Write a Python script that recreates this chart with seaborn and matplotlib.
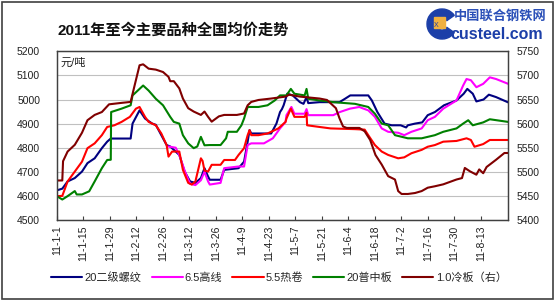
import numpy as np
import pandas as pd
import matplotlib
matplotlib.use("Agg")
import matplotlib.pyplot as plt
import matplotlib.dates as mdates
from matplotlib.patches import Rectangle, Wedge
from matplotlib.ticker import FixedLocator, MultipleLocator
import seaborn as sns

# ---------------- data (day offset from 2011-01-01, price) ----------------
start_date = "2011-01-01"

rebar_days = [0, 2.9, 5.7, 9.5, 13.3, 16.2, 20, 23.8, 26.6, 28.5, 39, 40, 43.7, 46.6, 50.4, 52.3,
              55.2, 58, 59.9, 64.7, 67.5, 70.4, 73.2, 76.1, 78, 79.9, 80.8, 86.5, 88.4, 96, 98.9,
              100.8, 101.8, 102.7, 113.2, 116, 117.9, 118.9, 119.8, 121.7, 124.6, 128.4, 130.3,
              131.9, 132.8, 138.8, 149.3, 152.2, 155, 164.5, 166.4, 169.3, 173.1, 176.9, 181.6,
              184.5, 185.4, 189.2, 193, 195.9, 199.7, 204.5, 211.1, 214.9, 216.8, 219.7, 221.6,
              225.4, 228.2, 232, 238.7]
rebar_vals = [4623, 4630, 4660, 4674, 4701, 4736, 4756, 4798, 4825, 4838, 4838, 4900, 4955, 4921,
              4900, 4895, 4852, 4811, 4805, 4770, 4701, 4660, 4654, 4674, 4715, 4680, 4667, 4667,
              4708, 4715, 4742, 4825, 4873, 4859, 4859, 4900, 4948, 4960, 4976, 5024, 5017, 4989,
              4982, 5010, 4985, 4989, 4989, 5003, 5017, 5017, 4996, 4948, 4900, 4893, 4893, 4884,
              4893, 4900, 4905, 4935, 4948, 4976, 4996, 5024, 5044, 5024, 4992, 5000, 5020, 5010,
              4987]

wire_days = [59, 62.8, 64.7, 67.5, 70.4, 73.2, 76.1, 78, 79.9, 80.8, 86.5, 88.4, 96, 98.9, 100.8,
             102.7, 109.4, 114.1, 117.9, 120.8, 121.3, 123.9, 125.5, 130.9, 131.9, 132.8, 146,
             149.5, 154.8, 159.8, 161, 164.5, 168, 171.6, 175, 180.3, 183.5, 187.3, 192.7, 195.9,
             199.7, 204.1, 211.1, 214.6, 216.4, 218.7, 221.6, 225.2, 228.7, 232, 238.4]
wire_vals = [4805, 4800, 4770, 4705, 4650, 4645, 4665, 4700, 4660, 4647, 4654, 4715, 4722, 4722,
             4811, 4818, 4818, 4839, 4880, 4907, 4935, 4969, 4941, 4941, 4960, 4935, 4935, 4948,
             4962, 4969, 4965, 4955, 4928, 4880, 4866, 4862, 4852, 4866, 4880, 4914, 4928, 4962,
             4996, 5058, 5085, 5080, 5051, 5065, 5092, 5085, 5065]

coil_days = [0, 2.9, 5.7, 9.5, 13.3, 16.2, 20, 23.8, 26.6, 30.4, 34.2, 37.1, 38.6, 41.8, 43.7,
             46.6, 48.5, 52.3, 55.2, 58, 59, 60.9, 64.7, 66.6, 69.4, 71.3, 73.2, 76.1, 77, 78,
             79.9, 81.8, 86.5, 88.4, 94.1, 96, 98.9, 100.8, 101.8, 102.7, 106.5, 111.3, 117,
             120.8, 121.3, 123.6, 125.5, 130.9, 131.9, 132.2, 138.8, 144.6, 157.5, 162.6, 164.5,
             168, 171.6, 175, 180.3, 183.5, 187.3, 192.7, 195.9, 199.7, 204.1, 211.1, 216.4,
             218.7, 220.6, 225.2, 228.7, 238.4]
coil_vals = [4599, 4600, 4660, 4701, 4742, 4798, 4818, 4852, 4886, 4893, 4907, 4921, 4928, 4962,
             4969, 4928, 4907, 4893, 4859, 4811, 4763, 4784, 4784, 4708, 4654, 4647, 4660, 4756,
             4745, 4705, 4701, 4729, 4729, 4749, 4749, 4770, 4798, 4852, 4873, 4852, 4852, 4859,
             4880, 4907, 4921, 4962, 4928, 4928, 4945, 4893, 4886, 4880, 4877, 4875, 4852, 4811,
             4784, 4770, 4756, 4760, 4777, 4791, 4804, 4811, 4825, 4828, 4839, 4832, 4804, 4815,
             4832, 4832]

plate_days = [0, 2.9, 5.7, 9.5, 10.5, 13.3, 17.1, 20, 23.8, 26.6, 28.5, 28.7, 34.2, 39, 40, 41.8,
              45.6, 48.5, 52.3, 56.1, 59.9, 61.8, 64.7, 66.6, 69.4, 72.3, 74.2, 76.1, 78, 80.8,
              86.5, 89.4, 90.3, 95.1, 97.5, 98.9, 100.8, 106.5, 111.3, 115.1, 117.9, 121.3, 123.6,
              125.5, 130.9, 131.9, 132.8, 138.8, 146, 157.5, 164.5, 168, 171.6, 175, 178.6, 185.4,
              192.7, 199.7, 204.1, 211.1, 214.6, 217.3, 219.7, 225.2, 228.7, 238.4]
plate_vals = [4599, 4585, 4599, 4620, 4606, 4606, 4619, 4660, 4715, 4749, 4750, 4948, 4962, 4976,
              5017, 5030, 5058, 5037, 5003, 4976, 4928, 4907, 4900, 4852, 4818, 4798, 4805, 4845,
              4810, 4811, 4811, 4839, 4866, 4866, 4893, 4921, 4969, 4969, 4976, 4996, 5017, 5017,
              5044, 5024, 5017, 5044, 5003, 4996, 4989, 4982, 4969, 4941, 4900, 4893, 4852, 4839,
              4839, 4852, 4866, 4880, 4900, 4914, 4893, 4905, 4918, 4907]

cold_days = [0, 2.9, 3.3, 5.7, 9.5, 13.3, 16.2, 20, 23.8, 27.6, 34.2, 39, 40.9, 43.7, 45.6, 48.5,
             52.3, 56.1, 59, 59.9, 61.8, 64.7, 66.6, 69.4, 72.3, 76.1, 78, 79.9, 81.8, 85.6, 88.4,
             95.1, 98.9, 100.8, 102.7, 106.5, 113.2, 120.8, 122.7, 128.4, 138.8, 142.7, 147.4,
             149.3, 151.2, 153.1, 159.8, 162.6, 165.5, 168.3, 171.6, 175, 178.6, 180.3, 182.1,
             185.4, 189.2, 192.7, 195.9, 199.7, 204.1, 211.1, 214, 215.5, 218.2, 221.6, 223.1,
             225.2, 227, 232, 236.4, 238.4]
cold_vals = [5482, 5482, 5522, 5542, 5556, 5581, 5607, 5618, 5624, 5640, 5643, 5645, 5676, 5721,
             5723, 5714, 5712, 5707, 5697, 5688, 5688, 5673, 5652, 5632, 5625, 5618, 5625, 5614,
             5604, 5615, 5618, 5618, 5621, 5638, 5645, 5649, 5652, 5656, 5660, 5656, 5652, 5649,
             5632, 5611, 5594, 5591, 5591, 5584, 5566, 5535, 5515, 5491, 5484, 5460, 5454, 5454,
             5456, 5460, 5467, 5470, 5474, 5484, 5487, 5508, 5501, 5494, 5505, 5497, 5510, 5525,
             5539, 5539]

tick_labels = ["11-1-1", "11-1-15", "11-1-29", "11-2-12", "11-2-26", "11-3-12", "11-3-26",
               "11-4-9", "11-4-23", "11-5-7", "11-5-21", "11-6-4", "11-6-18", "11-7-2",
               "11-7-16", "11-7-30", "11-8-13"]

series_names = ["20二级螺纹", "6.5高线", "5.5热卷", "20普中板", "1.0冷板（右）"]
colors = ["#000080", "#FF00FF", "#FF0000", "#008000", "#800000"]

# ---------------- style ----------------
sns.set_theme(style="white")
plt.rcParams["font.family"] = ["Liberation Sans", "Noto Sans CJK SC"]
plt.rcParams["axes.unicode_minus"] = False

t0 = pd.Timestamp(start_date)


def make_df(days, vals):
    return pd.DataFrame({"date": t0 + pd.to_timedelta(np.array(days), unit="D"),
                         "price": vals})


W, H = 554, 300
fig = plt.figure(figsize=(W / 100, H / 100), dpi=100)
fig.patch.set_facecolor("white")
ax = fig.add_axes([56.8 / W, 1 - 220 / H, (508 - 56.8) / W, (220 - 51.3) / H])
ax2 = ax.twinx()

lw = 1.5
left_series = [(rebar_days, rebar_vals), (wire_days, wire_vals),
               (coil_days, coil_vals), (plate_days, plate_vals)]
for (d, v), name, c in zip(left_series, series_names[:4], colors[:4]):
    sns.lineplot(data=make_df(d, v), x="date", y="price", ax=ax, color=c,
                 linewidth=lw, label=name, legend=False)
sns.lineplot(data=make_df(cold_days, cold_vals), x="date", y="price", ax=ax2,
             color=colors[4], linewidth=lw, label=series_names[4], legend=False)

xmin = mdates.date2num(t0)
ax.set_xlim(xmin, xmin + 238.3)
ax.set_ylim(4500, 5200)
ax2.set_ylim(5400, 5750)
ax.yaxis.set_major_locator(MultipleLocator(100))
ax2.yaxis.set_major_locator(MultipleLocator(50))

tick_dates = [mdates.date2num(pd.Timestamp(2000 + int(s.split("-")[0]),
                                            int(s.split("-")[1]), int(s.split("-")[2])))
              for s in tick_labels]
ax.xaxis.set_major_locator(FixedLocator(tick_dates))
ax.set_xticklabels(tick_labels, rotation=90, fontsize=7.5, color="#202020")

ax.set_xlabel("")
ax.set_ylabel("")
ax2.set_ylabel("")
ax.grid(axis="y", color="#c0c0c0", linewidth=0.8)
ax.grid(axis="x", visible=False)
ax2.grid(False)

ax.tick_params(axis="x", direction="in", length=3, width=0.8, color="#404040", pad=4,
               bottom=True)
ax.tick_params(axis="y", length=0, pad=12, labelsize=7.5, labelcolor="#202020")
ax2.tick_params(axis="y", length=0, pad=6, labelsize=7.5, labelcolor="#202020")

for a in (ax, ax2):
    for s in a.spines.values():
        s.set_color("#404040")
        s.set_linewidth(0.9)

ax.text(0.008, 0.935, "元/吨", transform=ax.transAxes, fontsize=8,
        ha="left", va="center", color="#202020")

# title
fig.text(57 / W, 1 - 30 / H, "2011年至今主要品种全国均价走势", fontsize=11,
         fontweight="bold", ha="left", va="center", color="#101010")

# logo
logo_ax = fig.add_axes([0, 0, 1, 1], facecolor="none")
logo_ax.set_xlim(0, W)
logo_ax.set_ylim(H, 0)
logo_ax.axis("off")
logo_ax.add_patch(Wedge((442, 24), 15, 35, 325, width=9, color="#1c3fa8"))
logo_ax.add_patch(Rectangle((434, 17), 11, 11, color="#f0b040"))
logo_ax.text(436.5, 25.5, "X", fontsize=5, color="#1c3fa8", ha="center", va="center")
logo_ax.text(500, 16, "中国联合钢铁网", fontsize=9.5, fontweight="bold", color="#2b50b8",
             ha="center", va="center")
logo_ax.text(497, 34.5, "custeel.com", fontsize=11.5, fontweight="bold", color="#1c3fa8",
             ha="center", va="center")
# outer border
logo_ax.add_patch(Rectangle((1.5, 1.5), W - 3, H - 3, fill=False, edgecolor="#404040",
                            linewidth=1.2))

# legend
h1, l1 = ax.get_legend_handles_labels()
h2, l2 = ax2.get_legend_handles_labels()
fig.legend(h1 + h2, l1 + l2, loc="center", bbox_to_anchor=(279 / W, 1 - 278 / H), ncol=5,
           frameon=False, fontsize=8, handlelength=2.8, handletextpad=0.2,
           columnspacing=0.9)

fig.savefig("out.png", dpi=100, facecolor="white")
